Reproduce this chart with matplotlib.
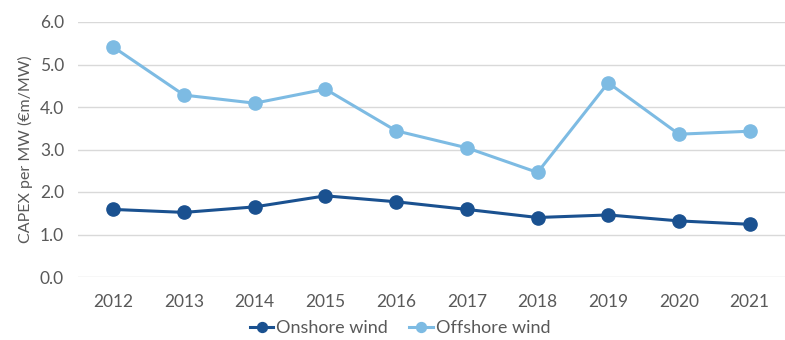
import matplotlib
matplotlib.use("Agg")
import matplotlib.pyplot as plt

years = ["2012", "2013", "2014", "2015", "2016", "2017", "2018", "2019", "2020", "2021"]
onshore = [1.59, 1.52, 1.65, 1.91, 1.77, 1.59, 1.40, 1.46, 1.32, 1.24]
offshore = [5.41, 4.28, 4.09, 4.42, 3.44, 3.04, 2.46, 4.57, 3.36, 3.43]
yticks = [0.0, 1.0, 2.0, 3.0, 4.0, 5.0, 6.0]

onshore_color = "#1a5190"
offshore_color = "#7dbbe3"
text_color = "#595959"

plt.rcParams["font.family"] = ["Lato", "DejaVu Sans"]

fig = plt.figure(figsize=(7.85, 3.4), dpi=100)
ax = fig.add_axes([78 / 785, 63 / 340, 1 - 78 / 785, (277 - 22) / 340])

x = range(len(years))
ax.plot(x, onshore, color=onshore_color, lw=2.2, marker="o", ms=9.5,
        label="Onshore wind", zorder=3)
ax.plot(x, offshore, color=offshore_color, lw=2.2, marker="o", ms=9.5,
        label="Offshore wind", zorder=3)

ax.set_xlim(-0.5, 9.5)
ax.set_ylim(0, 6)
ax.set_yticks(yticks)
ax.set_yticklabels([f"{v:.1f}" for v in yticks])
ax.set_xticks(list(x))
ax.set_xticklabels(years)
ax.grid(axis="y", color="#d9d9d9", lw=1)
ax.set_axisbelow(True)
for s in ax.spines.values():
    s.set_visible(False)
ax.tick_params(length=0, labelsize=12.5, colors=text_color)
ax.tick_params(axis="x", pad=12)
ax.tick_params(axis="y", pad=10)
ax.set_ylabel("CAPEX per MW (€m/MW)", fontsize=11.5, color=text_color, labelpad=5)

fig.legend(loc="center", bbox_to_anchor=(400 / 785, 1 - 328 / 340), ncol=2,
           frameon=False, fontsize=13, labelcolor=text_color, handlelength=1.3,
           handletextpad=0.15, columnspacing=1.2, markerscale=0.75)

fig.savefig("out.png", dpi=100, facecolor="white")
